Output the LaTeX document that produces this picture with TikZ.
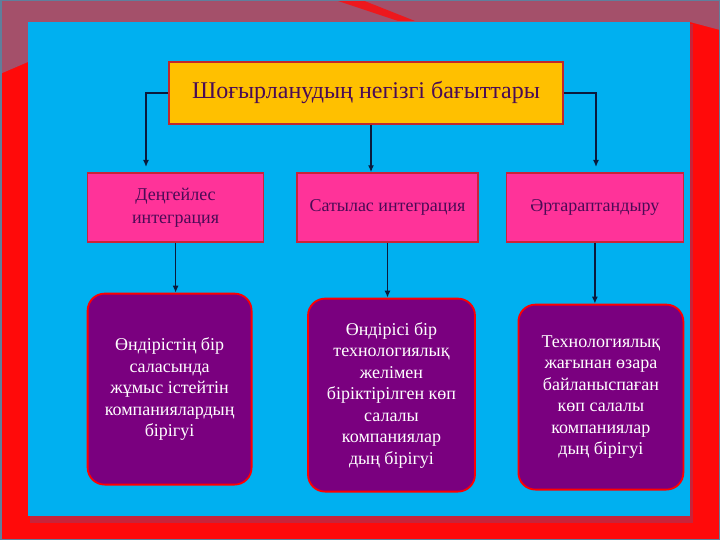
\documentclass[tikz,border=0pt]{standalone}
\usepackage{fontspec}
\setmainfont{Liberation Serif}
\usepackage{tikz}
\usetikzlibrary{positioning, arrows.meta}

\definecolor{slidered}{HTML}{FF0A0A}
\definecolor{bandgray}{HTML}{A4506A}
\definecolor{framegray}{HTML}{5F7F9C}
\definecolor{shadowred}{HTML}{C8243A}
\definecolor{skyblue}{HTML}{00B0F0}
\definecolor{orangefill}{HTML}{FFC000}
\definecolor{pinkfill}{HTML}{FF3399}
\definecolor{purplefill}{HTML}{7A007F}
\definecolor{darkred}{HTML}{C0282C}
\definecolor{textplum}{HTML}{4A0B55}
\definecolor{arrownavy}{HTML}{0B1A3C}

\begin{document}
\begin{tikzpicture}[
  x=1pt, y=-1pt,
  orangebox/.style={draw=darkred, line width=1.6pt, fill=orangefill, minimum width=394pt, minimum height=62pt, text=textplum, font=\fontsize{24}{28}\selectfont},
  pinkbox/.style={draw=shadowred, line width=1.4pt, fill=pinkfill, minimum height=69pt, text=textplum, align=center, font=\fontsize{18}{23}\selectfont},
  purplebox/.style={draw=red, line width=1.8pt, fill=purplefill, rounded corners=17pt, text=white, align=center, font=\fontsize{18}{21.5}\selectfont},
  arrow/.style={draw=arrownavy, line width=1.6pt, -{Latex[length=7pt, width=6pt]}},
]

  % Slide background
  \useasboundingbox (0,0) rectangle (720,540);
  \fill[slidered] (0,0) rectangle (720,540);
  \fill[bandgray] (0,0) -- (720,0) -- (720,30) -- (690,22) -- (28,22) -- (28,62) -- (0,74) -- cycle;
  \fill[slidered!80!bandgray] (335,0) -- (362,0) -- (415,21) -- (398,21) -- cycle;
  \fill[shadowred] (30,24) rectangle (693,523);
  \fill[skyblue] (28,22) rectangle (690,516);
  \draw[framegray, line width=1.5pt] (0.75,0.75) rectangle (719.25,539.25);

  % Title
  \node (title) [orangebox] at (366,93) {Шоғырланудың негізгі бағыттары};

  % Integration kinds
  \node (pinkM) [pinkbox, minimum width=181pt] at (387.5,207.5) {Сатылас интеграция};
  \node (pinkL) [pinkbox, minimum width=176pt, left=32pt of pinkM] {Деңгейлес\\интеграция};
  \node (pinkR) [pinkbox, minimum width=177pt, right=27pt of pinkM] {Әртараптандыру};

  % Descriptions
  \node (purpL) [purplebox, minimum width=164pt, minimum height=191pt, below=50pt of pinkL, xshift=-6pt]
    {Өндірістің бір\\саласында\\жұмыс істейтін\\компаниялардың\\бірігуі};
  \node (purpM) [purplebox, minimum width=167pt, minimum height=193pt, below=55pt of pinkM, xshift=4pt]
    {Өндірісі бір\\технологиялық\\желімен\\біріктірілген көп\\салалы\\компаниялар\\дың бірігуі};
  \node (purpR) [purplebox, minimum width=165pt, minimum height=185pt, below=61pt of pinkR, xshift=6pt]
    {Технологиялық\\жағынан өзара\\байланыспаған\\көп салалы\\компаниялар\\дың бірігуі};

  % Arrow ends above the side boxes
  \coordinate (endL) at (146,167);
  \coordinate (endR) at (596,167);

  \draw [arrow] (title.west) -| (endL);
  \draw [arrow] ([xshift=5pt]title.south) -- ([xshift=5pt]title.south |- pinkM.north);
  \draw [arrow] (title.east) -| (endR);

  \draw [arrow] (pinkL.south) -- (pinkL.south |- purpL.north);
  \draw [arrow] (pinkM.south) -- (pinkM.south |- purpM.north);
  \draw [arrow] (pinkR.south) -- (pinkR.south |- purpR.north);

\end{tikzpicture}
\end{document}
